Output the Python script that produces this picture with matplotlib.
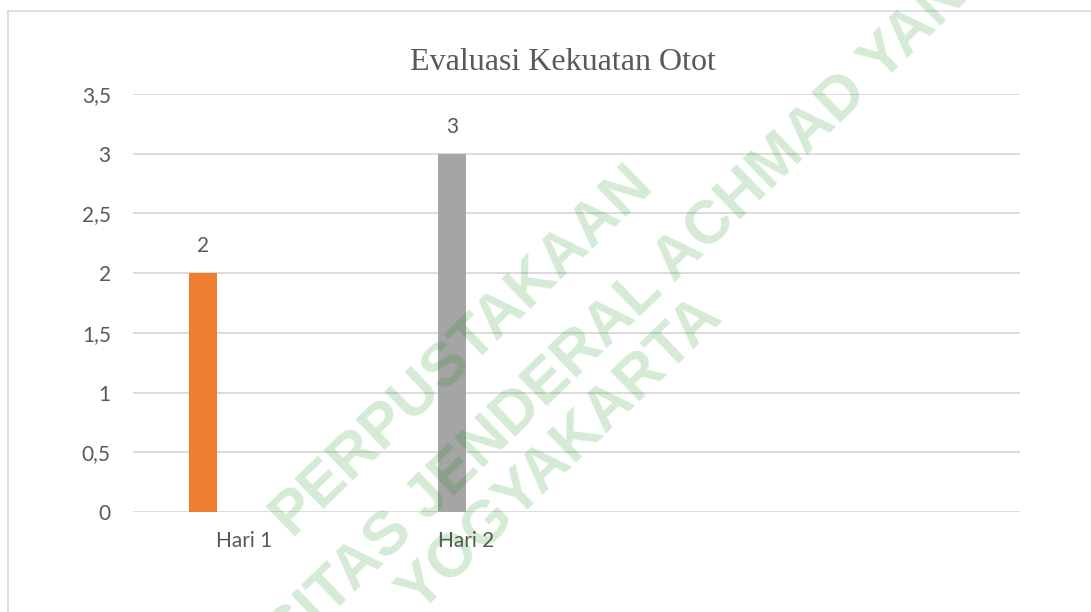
import numpy as np
import matplotlib
matplotlib.use("Agg")
import matplotlib.pyplot as plt
from matplotlib.lines import Line2D

#%% Data
categories = ["Hari 1", "Hari 2", "", ""]
seri_2 = [2, np.nan, np.nan, np.nan]      # orange
seri_3 = [np.nan, 3, np.nan, np.nan]      # gray
yticks = [0, 0.5, 1, 1.5, 2, 2.5, 3, 3.5]
ytick_labels = ["0", "0,5", "1", "1,5", "2", "2,5", "3", "3,5"]
title = "Evaluasi Kekuatan Otot"
watermark = ["PERPUSTAKAAN", "UNIVERSITAS JENDERAL ACHMAD YANI", "YOGYAKARTA"]

#%% Figure
W, H = 1091, 612
fig = plt.figure(figsize=(W / 100, H / 100), dpi=100)
ax = fig.add_axes([133 / W, 1 - 512 / H, (1020 - 133) / W, (512 - 94) / H])

txt = "#595959"
grid = "#D9D9D9"
n_series = 6
bw = 0.123
x = np.arange(len(categories))

for k, (vals, col) in enumerate([(seri_2, "#ED7D31"), (seri_3, "#A5A5A5")], start=1):
    off = (k - (n_series - 1) / 2) * bw
    bars = ax.bar(x + off, vals, width=bw, color=col, zorder=3)
    for b, v in zip(bars, vals):
        if not np.isnan(v):
            ax.annotate(f"{v:g}", (b.get_x() + b.get_width() / 2, v),
                        xytext=(0, 12), textcoords="offset points",
                        ha="center", va="bottom", fontsize=15,
                        family="Lato", color=txt)

ax.set_xlim(-0.5, len(categories) - 0.5)
ax.set_ylim(0, 3.5)
ax.set_yticks(yticks)
ax.set_yticklabels(ytick_labels)
ax.set_xticks(x)
ax.set_xticklabels(categories)
ax.tick_params(length=0, labelsize=15, labelcolor=txt)
ax.tick_params(axis="y", pad=16)
ax.tick_params(axis="x", pad=14)
for lab in ax.get_xticklabels() + ax.get_yticklabels():
    lab.set_family("Lato")
ax.grid(axis="y", color=grid, lw=1.3, zorder=0)
for s in ax.spines.values():
    s.set_visible(False)

fig.text(563 / W, 1 - 62 / H, title, ha="center", va="center",
         fontsize=23, family="Liberation Serif", color=txt)

# chart frame
fig.add_artist(Line2D([8 / W, 8 / W], [0, 1 - 10.5 / H], color=grid, lw=1.2))
fig.add_artist(Line2D([8 / W, 1], [1 - 10.5 / H, 1 - 10.5 / H], color=grid, lw=1.2))

# library watermark
centers = [(462, 350), (542, 390), (562, 455)]
for t, (cx, cy) in zip(watermark, centers):
    fig.text(cx / W, 1 - cy / H, t, rotation=44, rotation_mode="anchor",
             ha="center", va="center", fontsize=44, fontweight="bold",
             family="Liberation Sans", color="#038703", alpha=0.167, zorder=10)

fig.savefig("out.png", dpi=100)
